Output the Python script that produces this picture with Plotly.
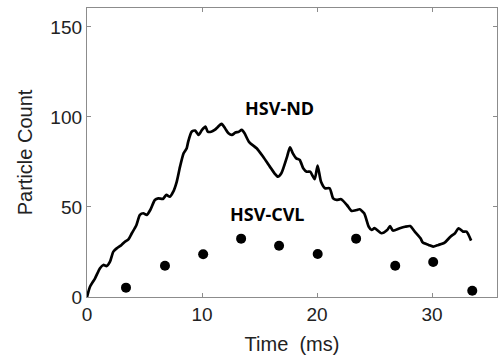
import plotly.graph_objects as go

# HSV-ND trace (time in ms, particle count)
nd_time = [0, 0.26, 0.7, 1.13, 1.42, 1.71, 2.0, 2.29, 2.58, 3.0, 3.3, 3.6, 3.9, 4.3, 4.6,
           4.9, 5.2, 5.5, 5.9, 6.2, 6.6, 6.9, 7.2, 7.5, 7.8, 8.09, 8.4, 8.67, 8.8, 9.1,
           9.4, 9.7, 10.0, 10.3, 10.5, 10.8, 11.1, 11.4, 11.7, 12.0, 12.3, 12.6, 12.9,
           13.2, 13.45, 13.7, 14.1, 14.75, 15.3, 15.9, 16.3, 16.6, 16.9, 17.4, 17.65,
           17.9, 18.2, 18.5, 18.8, 19.1, 19.4, 19.8, 20.05, 20.35, 20.7, 21.1, 21.4,
           21.7, 22.1, 22.6, 23.0, 23.45, 23.7, 24.1, 24.5, 24.75, 25.0, 25.6, 26.1,
           26.35, 26.6, 27.2, 27.65, 28.1, 28.5, 29.0, 29.2, 29.7, 30.1, 30.55, 31.1,
           31.6, 32.0, 32.3, 32.7, 33.0, 33.4]
nd_count = [0, 5.7, 10.4, 16, 17.8, 17.2, 19.6, 25.2, 27, 28.9, 30.7, 32, 35.4, 40, 45.6,
            46.5, 45.6, 48.3, 53.9, 54.8, 54.5, 56.7, 55.7, 58.5, 64, 72.4, 79.8, 82.6, 86.3, 91.8,
            92.4, 90, 92.8, 94.6, 91.8, 91.8, 92.8, 94.6, 96.1, 93.7, 90.9, 90, 91.3,
            91.8, 92.8, 90.9, 86, 82.6, 78, 72.4, 68.7, 66.8, 68.7, 78, 83.1,
            79.8, 77, 76.1, 71.5, 69.6, 69.6, 65.5, 73, 64, 60.4, 60.4, 54.8,
            53.9, 54.3, 51.1, 47.8, 48.3, 48.7, 46.5, 39, 37.2, 38.2, 35.4, 37.2,
            39.4, 36.9, 38.2, 39, 39.4, 36.3, 32.6, 30.2, 28.9, 28, 28.9, 30.2,
            33.5, 35.4, 38.2, 36.3, 36.3, 31.3]

# HSV-CVL points
cvl_time = [3.39, 6.78, 10.1, 13.4, 16.7, 20.06, 23.4, 26.8, 30.1, 33.5]
cvl_count = [5.2, 17.4, 23.7, 32.4, 28.5, 23.9, 32.4, 17.4, 19.4, 3.5]

x_ticks = [0, 10, 20, 30]
y_ticks = [0, 50, 100, 150]

fig = go.Figure()
fig.add_trace(go.Scatter(x=nd_time, y=nd_count, mode="lines",
                         line=dict(color="black", width=2.7, shape="spline", smoothing=0.6),
                         showlegend=False))
fig.add_trace(go.Scatter(x=cvl_time, y=cvl_count, mode="markers",
                         marker=dict(color="black", size=10),
                         showlegend=False))

fig.add_annotation(x=16.7, y=105, text="<b>HSV-ND</b>", showarrow=False,
                   font=dict(family="Open Sans", size=18, color="black"))
fig.add_annotation(x=15.7, y=46, text="<b>HSV-CVL</b>", showarrow=False,
                   font=dict(family="Open Sans", size=18, color="black"))

axis_common = dict(showline=True, linecolor="#8c8c8c", linewidth=1.3, mirror="ticks",
                   ticks="inside", ticklen=4, tickcolor="#8c8c8c", tickwidth=1,
                   showgrid=False, zeroline=False,
                   tickfont=dict(family="Liberation Sans, Arial", size=19, color="#222"))

fig.update_xaxes(range=[0, 35.65], tickvals=x_ticks,
                 title=dict(text="Time  (ms)", font=dict(family="Liberation Sans, Arial", size=20, color="#222"),
                            standoff=13),
                 **axis_common)
fig.update_yaxes(range=[0, 160.5], tickvals=y_ticks,
                 title=dict(text="Particle Count", font=dict(family="Liberation Sans, Arial", size=20, color="#222"),
                            standoff=12),
                 **axis_common)

fig.update_layout(width=498, height=360, margin=dict(l=87, r=1, t=8, b=63),
                  plot_bgcolor="white", paper_bgcolor="white")

fig.write_html("out.html")
